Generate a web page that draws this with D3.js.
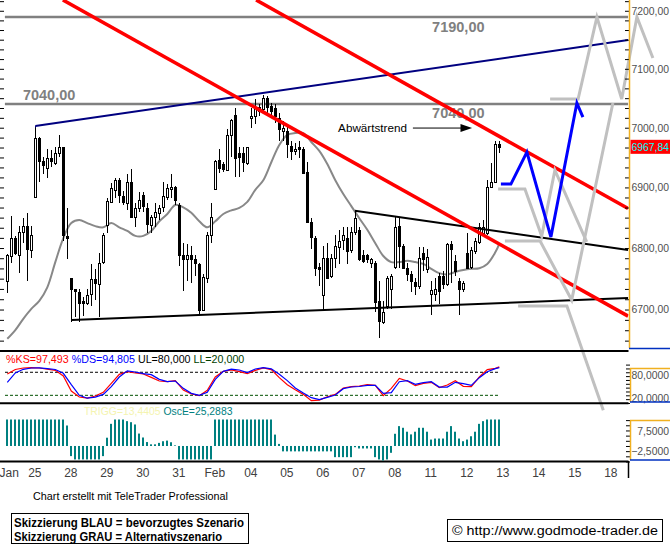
<!DOCTYPE html>
<html><head><meta charset="utf-8">
<script src="https://cdn.jsdelivr.net/npm/d3@7"></script>
<style>
body{margin:0;background:#fff}
svg{display:block}
text{font-family:"Liberation Sans",Arial,sans-serif}
</style>
</head><body>
<svg id="c" width="670" height="544"></svg>
<script>
// ---------- DATA ----------
const openP  = [6746,6786,6816,6789,6826,6836,6797, 6885,6983,6944,6932,6949,6940,6957,6967,6819, 6751,6733,6729,6714,6711,6724,6749,6741,6776, 6837,6875,6895,6912,6885,6874,6909,6851,6866, 6887,6866,6837,6851,6857,6866,6884,6897,6900, 6871,6789,6781,6788,6782,6774,6700,6751,6822, 6897,6945,6939,6929,6988,7022,6957,6957,6942, 7017,7020,7035,7031,7050,7037,7033,7017,6995, 6995,6970,6962,6967,6965,6925,6842,6817,6769, 6724,6784,6754,6784,6802,6812,6817,6796,6826, 6829,6788,6788,6776,6776,6713,6680,6705,6734, 6768,6837,6804,6768,6758,6744,6738,6792,6766, 6724,6726,6754,6754,6741,6807,6779,6746,6733, 6792,6768,6796,6809,6824,6824,6900,6909,6973];
const highP  = [6791,6852,6819,6837,6849,6857,6837, 7002,6985,6950,6965,6963,6967,6988,6968,6866, 6751,6734,6734,6721,6733,6774,6766,6792,6824, 6882,6907,6915,6915,6894,6922,6930,6874,6892, 6892,6874,6854,6874,6871,6909,6905,6922,6902, 6874,6809,6807,6804,6788,6776,6758,6826,6875, 6945,6965,6942,6998,7015,7033,6967,6967,6968, 7033,7048,7040,7055,7053,7041,7040,7025,7012, 7007,6978,6975,6978,6967,6942,6849,6819,6776, 6804,6809,6791,6821,6829,6834,6834,6834,6862, 6834,6796,6791,6784,6779,6746,6713,6755,6758, 6851,6851,6807,6776,6763,6751,6801,6801,6799, 6746,6751,6759,6763,6809,6812,6788,6751,6746, 6824,6801,6816,6841,6846,6912,6940,6977,6978];
const lowP   = [6726,6776,6788,6759,6809,6746,6784, 6884,6909,6922,6915,6934,6937,6950,6811,6782, 6680,6688,6680,6690,6708,6705,6716,6688,6774, 6824,6874,6882,6875,6871,6862,6849,6834,6859, 6859,6824,6824,6834,6846,6859,6879,6882,6871, 6771,6730,6746,6743,6754,6693,6698,6743,6809, 6895,6924,6925,6927,6950,6917,6917,6925,6937, 7000,7007,7020,7028,7020,7017,7008,6978,6978, 6949,6945,6954,6949,6924,6841,6799,6754,6738, 6700,6749,6751,6768,6774,6796,6774,6792,6822, 6779,6776,6776,6768,6696,6655,6676,6701,6701, 6766,6768,6766,6746,6729,6724,6734,6763,6759, 6691,6713,6709,6734,6738,6743,6754,6691,6729, 6766,6766,6791,6807,6821,6821,6899,6907,6957];
const closeP = [6788,6816,6791,6826,6836,6799,6822, 6983,6945,6937,6949,6944,6957,6967,6821,6816, 6733,6729,6711,6711,6724,6749,6743,6776,6821, 6877,6899,6912,6887,6875,6909,6851,6866,6879, 6869,6839,6851,6859,6866,6885,6899,6900,6879, 6789,6782,6788,6782,6776,6700,6753,6822,6851, 6944,6932,6930,6988,7013,6950,6950,6942,6968, 7020,7035,7028,7050,7035,7028,7020,6998,7000, 6973,6962,6965,6963,6925,6842,6817,6768,6766, 6784,6751,6784,6804,6812,6821,6796,6826,6849, 6782,6779,6782,6782,6713,6680,6696,6751,6755, 6834,6804,6768,6758,6746,6738,6784,6782,6786, 6731,6734,6729,6741,6807,6799,6763,6733,6743, 6768,6796,6812,6834,6834,6900,6909,6973,6968];

const maIdx = [0,2,4,6,8,10,12,14,16,18,20,22,24,26,28,30,32,34,36,38,40,42,44,46,48,50,52,54,56,58,60,62,64,66,68,70,72,74,76,78,80,82,84,86,88,90,92,94,96,98,100,102,104,106,108,110,112,114,116,118,120,122,123];
const maVal = [6653,6667,6685,6701,6714,6736,6777,6816,6841,6846,6841,6836,6834,6841,6834,6828,6820,6820,6828,6844,6856,6871,6867,6858,6844,6834,6844,6856,6862,6866,6876,6896,6912,6942,6971,6988,6991,6991,6976,6961,6939,6912,6889,6869,6849,6830,6808,6787,6777,6777,6779,6777,6774,6766,6759,6757,6761,6764,6766,6767,6774,6793,6807];

const stochIdx = maIdx;
const stochK = [75.5,87.3,91.2,92.1,91.2,88.2,85.1,70.3,31.2,15.5,12.9,18.2,27.7,51.2,74.7,81.6,78.2,75.5,66.8,57.3,55.5,58.2,33.8,23.4,19,32.9,67.7,82.5,86,81.6,76.4,85.1,91.6,86.9,66,47.7,34.7,22.5,6,7.7,16.4,22.5,39,42.5,44.2,47.7,46,19,38.1,64.2,57.3,45.1,51.2,53.8,39.9,46.8,58.2,43.4,42.5,67.7,86.8,90.3,94];
const stochD = [53.8,78.2,87.7,91.2,91.6,89.4,87.3,77.3,47.7,19.9,12.5,15.5,22.5,42.5,67.7,83.8,80.8,76.4,73.8,61.6,55.5,57.3,38.1,25.1,19.9,27.7,61.6,82.5,88.2,86,79,88.6,92.1,89,74.7,58.2,39,26,13.8,8.6,14.7,20.8,37.3,41.6,42.9,46,46,25.1,26.8,55.5,58.2,48.6,53,55.5,41.6,41.6,53.8,50.3,46,66,81.6,89.4,92];

const oscE = [12.8,12.8,12.8,12.8,12.8,12.8,12.8,12.8,12.8,12.8,12.8,12.8,12.8,12.8,12.8,9.9,-4.9,-6.5,-6.5,-6.5,-6.5,-6.5,-6.5,-6.5,-4.9,
 4,10.7,12.8,12.8,12.8,12,11.5,10.4,6,4.1,1.9,0.8,0.8,1.5,2.3,2.6,1.8,0.3,
 -6.5,-6.5,-6.5,-6.5,-6.5,-6.5,-6.5,-6.5,-6.5,
 12.8,12.8,12.8,12.8,12.8,12.8,12.8,12.8,12.8,12.8,12.8,12.8,12.8,12.8,12.8,5.5,1,
 -2.6,-2.6,-2.6,-2.6,-2.6,-2.6,-2.6,-2.6,-2.6,-2.6,-2.6,-2.6,-2.6,
 -5.4,-5.4,-5.4,-5.4,-5.4,-0.6,-1.2,-1.2,-1.2,-1.2,-5.4,-6.5,-7,-6.5,-3.3,
 5.9,9.6,8.8,6.9,5.6,6.9,8.8,8.8,6.9,3.1,3.6,3.6,3.6,6.9,9.6,6.9,3.6,2.3,3.1,4.7,6.9,10.7,12,12.8,12.8,12.8,12.8];

const dayIdx    = [0.6,7,16,25,34,43,52,61,70,79,88,97,106,115,124,133,142,151];
const dayLabels = ["Jan","25","28","29","30","31","Feb","04","05","06","07","08","11","12","13","14","15","18"];
const priceTicks = [6700,6800,6900,7000,7100,7200];
const stochTicks = [80,20];
const oscTicks = [7.5,-2.5];

const levelPrices = [7190,7040];
const redLineA = [[13.9,7218.7],[155.2,6689.4]];
const redLineB = [[62.2,7218.7],[155.2,6865]];
const navyLine = [[7,7002.8],[155.2,7149.4]];
const supportLine = [[16.1,6683],[155.2,6718.5]];
const upperBlackLine = [[86.9,6861.3],[155.2,6796.6]];
const blueSketch = [[123.4,6905.6],[125.9,6905.6],[129.9,6959],[135.9,6818],[142.4,7041.7],[143.9,7018]];
const graySketches = [
  [[135.7,7048.5],[142.7,7048.5],[147.4,7189.1],[153.6,7048.5],[157.4,7189.1],[161.4,7118.5]],
  [[122.7,6897.3],[129.4,6897.3],[133.6,6819.6],[136.9,6928.9],[144.85,6810.2]],
  [[124.4,6811.4],[133.2,6811.4],[141.1,6715.3],[151.4,7041.7]],
  [[127.7,6705.6],[139.9,6705.6],[149,6539.5]]
];
const lastPrice = 6967.84;

// ---------- SCALES ----------
const svg = d3.select("#c");
const x = d3.scaleLinear().domain([0,124]).range([7.3,503.3]);
const yMain = d3.scaleLog().domain([6635,7218.7]).range([350,0]);
const yS = d3.scaleLinear().domain([0,100]).range([403,364.6]);
const yH = d3.scaleLinear().domain([-7.5,12.8]).range([461.5,419.5]);
const px = i => Math.round(x(i));
const fmt2 = d => d3.format(".2f")(d).replace(".",",");
const fmt4 = d => d3.format(".4f")(d).replace(".",",");
const lineMain = d3.line().x(d=>x(d[0])).y(d=>yMain(d[1]));
const AXF = 10.4; // axis label font size (fits the 670px window)

svg.append("rect").attr("width",670).attr("height",544).attr("fill","#fff");
svg.append("clipPath").attr("id","mc").append("rect").attr("x",0).attr("y",0).attr("width",628.5).attr("height",349);
const main = svg.append("g").attr("clip-path","url(#mc)");

// level lines
main.selectAll("line.lvl").data(levelPrices).join("line")
  .attr("x1",x(-0.6)).attr("x2",x(155.2)).attr("y1",d=>Math.round(yMain(d))).attr("y2",d=>Math.round(yMain(d)))
  .attr("stroke","#808080").attr("stroke-width",2.5);
const lvlTxt = [
  {t:"7040,00", i:3.9, p:7040, dy:-4},
  {t:"7190,00", i:106.2, p:7190, dy:15},
  {t:"7040,00", i:106.2, p:7040, dy:14}
];
main.selectAll("text.lvl").data(lvlTxt).join("text")
  .attr("x",d=>x(d.i)).attr("y",d=>yMain(d.p)+d.dy).text(d=>d.t)
  .attr("fill","#808080").attr("font-weight","bold").attr("font-size",14.5);

// moving average
main.append("path").datum(maIdx.map((v,k)=>[v,maVal[k]]))
  .attr("d",d3.line().x(d=>x(d[0])).y(d=>yMain(d[1])).curve(d3.curveCatmullRom))
  .attr("fill","none").attr("stroke","#888").attr("stroke-width",2);

// candles
const candles = openP.map((o,i)=>({i,o,h:highP[i],l:lowP[i],c:closeP[i]}));
main.append("g").selectAll("line").data(candles).join("line")
  .attr("x1",d=>px(d.i)+0.5).attr("x2",d=>px(d.i)+0.5)
  .attr("y1",d=>Math.round(yMain(d.h))).attr("y2",d=>Math.round(yMain(d.l)))
  .attr("stroke","#000").attr("stroke-width",1);
main.append("g").selectAll("rect").data(candles).join("rect")
  .attr("x",d=>px(d.i)-0.5).attr("width",2)
  .attr("y",d=>Math.round(yMain(Math.max(d.o,d.c)))+0.5)
  .attr("height",d=>Math.max(1,Math.round(Math.abs(yMain(d.o)-yMain(d.c)))))
  .attr("fill",d=>d.c<d.o?"#000":"#fff").attr("stroke","#000").attr("stroke-width",1);

// trend lines
[supportLine, upperBlackLine].forEach(l=>main.append("path").attr("d",lineMain(l)).attr("stroke","#000").attr("stroke-width",2).attr("fill","none"));
main.append("path").attr("d",lineMain(navyLine)).attr("stroke","#000080").attr("stroke-width",2).attr("fill","none");
main.append("line").attr("x1",px(7)+0.5).attr("x2",px(7)+0.5).attr("y1",yMain(navyLine[0][1])).attr("y2",yMain(highP[7])+1).attr("stroke","#000080").attr("stroke-width",1);
[redLineA, redLineB].forEach(l=>main.append("path").attr("d",lineMain(l)).attr("stroke","#ff0000").attr("stroke-width",3.6).attr("fill","none"));

// annotation
const ann = {i:82.7, p:6992.7};
main.append("text").attr("x",x(ann.i)).attr("y",yMain(ann.p)).text("Abwärtstrend").attr("font-size",11.7).attr("fill","#000");
main.append("line").attr("x1",x(101.4)).attr("x2",x(114)).attr("y1",yMain(6999.4)).attr("y2",yMain(6999.4)).attr("stroke","#000").attr("stroke-width",1);
main.append("path").attr("d",`M${x(113.3)},${yMain(6999.4)-4}L${x(116.2)},${yMain(6999.4)}L${x(113.3)},${yMain(6999.4)+4}Z`).attr("fill","#000");

// sketches (unclipped)
const sk = svg.append("g");
graySketches.forEach(s=>sk.append("path").attr("d",lineMain(s)).attr("fill","none").attr("stroke","#c0c0c0").attr("stroke-width",3).attr("stroke-linejoin","miter"));
sk.append("path").attr("d",lineMain(blueSketch)).attr("fill","none").attr("stroke","#0000ff").attr("stroke-width",3);

// right price axis
const axG = svg.append("g").attr("transform","translate(631.5,0)");
axG.call(d3.axisRight(yMain).tickValues(priceTicks).tickSize(0).tickPadding(0).tickFormat(fmt2));
axG.select(".domain").remove();
axG.selectAll("text").attr("font-size",AXF).attr("fill","#505050");
const minorP = d3.range(6650,7220,100/6);
const tk = svg.append("g").attr("transform","translate(629,0)").call(d3.axisLeft(yMain).tickValues(minorP).tickSize(4).tickFormat(""));
tk.select(".domain").remove();
const tkL = svg.append("g").attr("transform","translate(0,0)").call(d3.axisRight(yMain).tickValues(minorP).tickSize(4).tickFormat(""));
tkL.select(".domain").remove();
svg.append("line").attr("x1",629.5).attr("x2",629.5).attr("y1",0).attr("y2",348).attr("stroke","#f0b020").attr("stroke-width",1.5);
svg.append("line").attr("x1",629).attr("x2",670).attr("y1",348.5).attr("y2",348.5).attr("stroke","#0030c0").attr("stroke-width",1.5);
// price tag
svg.append("rect").attr("x",630.5).attr("y",yMain(lastPrice)-7).attr("width",40).attr("height",14).attr("fill","#ff0000");
svg.append("text").attr("x",631.5).attr("y",yMain(lastPrice)+4).text(fmt2(lastPrice)).attr("fill","#00ffff").attr("font-size",AXF);

// panel separators
[351,403.3,461.5].forEach(yv=>svg.append("line").attr("x1",0).attr("x2",628.5).attr("y1",yv).attr("y2",yv).attr("stroke","#000").attr("stroke-width",2));
svg.append("line").attr("x1",628.5).attr("x2",628.5).attr("y1",461).attr("y2",478).attr("stroke","#000").attr("stroke-width",1.5);

// ---------- STOCHASTIC ----------
svg.selectAll("line.ul").data(stochTicks).join("line")
  .attr("x1",5).attr("x2",x(123)).attr("y1",d=>yS(d)).attr("y2",d=>yS(d))
  .attr("stroke",(d,k)=>k===0?"#000":"#005000").attr("stroke-width",1).attr("stroke-dasharray","3,2");
const sLine = arr => d3.line().x((d,k)=>x(stochIdx[k])).y(d=>yS(d))(arr);
svg.append("path").attr("d",sLine(stochK)).attr("fill","none").attr("stroke","#ff0000").attr("stroke-width",1.2);
svg.append("path").attr("d",sLine(stochD)).attr("fill","none").attr("stroke","#0000ff").attr("stroke-width",1.2);
const stochHead = [
  {t:"%KS=97,493 ", c:"#ff0000"},
  {t:"%DS=94,805 ", c:"#0000ff"},
  {t:"UL=80,000 ", c:"#000"},
  {t:"LL=20,000", c:"#004000"}
];
svg.append("text").attr("x",6).attr("y",362.5).attr("font-size",10.7).attr("xml:space","preserve")
  .selectAll("tspan").data(stochHead).join("tspan").text(d=>d.t).attr("fill",d=>d.c);
const sAx = svg.append("g").attr("transform","translate(631.5,0)");
sAx.call(d3.axisRight(yS).tickValues(stochTicks).tickSize(0).tickPadding(0).tickFormat(fmt4));
sAx.select(".domain").remove();
sAx.selectAll("text").attr("font-size",AXF).attr("fill","#505050").attr("dy","0.6em");
const sTk = svg.append("g").attr("transform","translate(630,0)").call(d3.axisLeft(yS).tickValues(d3.range(0,101,10)).tickSize(4).tickFormat(""));
sTk.select(".domain").remove();
svg.append("line").attr("x1",630.5).attr("x2",630.5).attr("y1",368).attr("y2",402).attr("stroke","#f0b020").attr("stroke-width",1.5);
svg.append("line").attr("x1",630).attr("x2",670).attr("y1",368.5).attr("y2",368.5).attr("stroke","#f0b020").attr("stroke-width",1.5);
svg.append("line").attr("x1",630).attr("x2",670).attr("y1",402).attr("y2",402).attr("stroke","#0030c0").attr("stroke-width",1.5);

// ---------- OSCILLATOR ----------
svg.append("g").selectAll("rect").data(oscE).join("rect")
  .attr("x",(d,i)=>px(i)-1).attr("width",2)
  .attr("y",d=>Math.min(yH(0),yH(d))).attr("height",d=>Math.abs(yH(d)-yH(0)))
  .attr("fill","#008080");
const oscHead = [
  {t:"TRIGG=13,4405 ", c:"#f4f4b0"},
  {t:"OscE=25,2883", c:"#008080"}
];
svg.append("text").attr("x",84).attr("y",415).attr("font-size",10.4).attr("xml:space","preserve")
  .selectAll("tspan").data(oscHead).join("tspan").text(d=>d.t).attr("fill",d=>d.c);
const oAx = svg.append("g").attr("transform","translate(669,0)");
oAx.call(d3.axisLeft(yH).tickValues(oscTicks).tickSize(0).tickPadding(0).tickFormat(fmt4));
oAx.select(".domain").remove();
oAx.selectAll("text").attr("font-size",AXF).attr("fill","#505050").attr("dy","0.35em");
const oTk = svg.append("g").attr("transform","translate(630,0)").call(d3.axisLeft(yH).tickValues(d3.range(-7.5,12.6,2.5)).tickSize(4).tickFormat(""));
oTk.select(".domain").remove();
svg.append("line").attr("x1",630.5).attr("x2",630.5).attr("y1",420.5).attr("y2",460).attr("stroke","#f0b020").attr("stroke-width",1.5);
svg.append("line").attr("x1",630).attr("x2",670).attr("y1",420.5).attr("y2",420.5).attr("stroke","#f0b020").attr("stroke-width",1.5);
svg.append("line").attr("x1",630).attr("x2",670).attr("y1",460).attr("y2",460).attr("stroke","#0030c0").attr("stroke-width",1.5);

// ---------- X AXIS ----------
const xa = svg.append("g").attr("transform","translate(-1,462)");
xa.call(d3.axisBottom(x).tickValues(dayIdx).tickSize(0).tickPadding(6).tickFormat((d,k)=>dayLabels[k]));
xa.select(".domain").remove();
xa.selectAll("text").attr("font-size",12).attr("fill","#404040");

// ---------- FOOTER ----------
svg.append("text").attr("x",33).attr("y",500).text("Chart erstellt mit TeleTrader Professional")
  .attr("font-size",11.5).attr("textLength",195).attr("lengthAdjust","spacingAndGlyphs");
svg.append("rect").attr("x",11.5).attr("y",513.5).attr("width",237).attr("height",30).attr("fill","none").attr("stroke","#000");
svg.append("text").attr("x",14).attr("y",526.5).text("Skizzierung BLAU = bevorzugtes Szenario").attr("font-weight","bold")
  .attr("font-size",12.5).attr("textLength",230).attr("lengthAdjust","spacingAndGlyphs");
svg.append("text").attr("x",14).attr("y",540.5).text("Skizzierung GRAU = Alternativszenario").attr("font-weight","bold")
  .attr("font-size",12.5).attr("textLength",208).attr("lengthAdjust","spacingAndGlyphs");
svg.append("rect").attr("x",447.5).attr("y",519.5).attr("width",215).attr("height",22).attr("fill","none").attr("stroke","#000");
svg.append("text").attr("x",452).attr("y",535).text("© http://www.godmode-trader.de")
  .attr("font-size",12.5).attr("textLength",206).attr("lengthAdjust","spacingAndGlyphs");
</script>
</body></html>
